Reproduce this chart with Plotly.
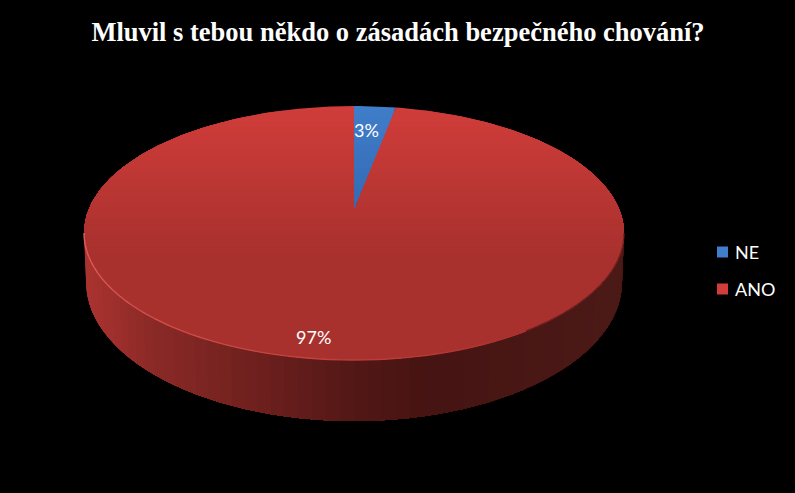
import numpy as np
import plotly.graph_objects as go

title = "Mluvil s tebou někdo o zásadách bezpečného chování?"
categories = ["NE", "ANO"]
values = [3, 97]
top_light = {"NE": (64, 125, 202), "ANO": (208, 61, 58)}
top_dark = {"NE": (46, 98, 168), "ANO": (168, 49, 46)}
wall_stops_x = [84, 150, 270, 354, 430, 624]
wall_stops = [(172, 52, 49), (140, 42, 39), (107, 31, 29), (82, 24, 22), (70, 20, 18), (76, 26, 23)]

W, H = 795, 493
CX, CY, RX, RY = 354.0, 233.0, 270.0, 127.0
BCY, BRX, BRY = 282.0, 268.0, 139.0
K = 0.197  # perspective shift of the pie centre


def project(theta):
    u, v = np.sin(theta), np.cos(theta)
    d = 1 + K * v
    return CX + RX * u * np.sqrt(1 - K * K) / d, CY - RY * (v + K) / d


def clip_below(poly, y):
    out = []
    n = len(poly)
    for i in range(n):
        a, b = poly[i], poly[(i + 1) % n]
        ia, ib = a[1] >= y, b[1] >= y
        if ia:
            out.append(a)
        if ia != ib:
            t = (y - a[1]) / (b[1] - a[1])
            out.append((a[0] + t * (b[0] - a[0]), y))
    return out


def mix(a, b, t):
    return "rgb(%d,%d,%d)" % tuple(a[i] + (b[i] - a[i]) * t for i in range(3))


def poly_trace(xs, ys, color, lw=0.0):
    return go.Scatter(x=list(xs) + [xs[0]], y=list(ys) + [ys[0]], mode="lines", fill="toself",
                      fillcolor=color, line=dict(color=color, width=lw), hoverinfo="skip",
                      showlegend=False)


traces = []

# side wall: each step paints the rest of the wall to its right, so no seams appear
angles = np.linspace(np.pi, 2 * np.pi, 61)
for i in range(len(angles) - 1):
    arc = angles[i:]
    tx = CX + RX * np.cos(arc)
    ty = CY - RY * np.sin(arc)
    bx = CX + BRX * np.cos(arc[::-1])
    by = BCY - BRY * np.sin(arc[::-1])
    xm = (tx[0] + CX + RX * np.cos(angles[i + 1])) / 2
    col = tuple(np.interp(xm, wall_stops_x, [s[j] for s in wall_stops]) for j in range(3))
    traces.append(poly_trace(list(tx) + list(bx), list(ty) + list(by), mix(col, col, 0)))

# top face: every slice comes from the values
total = sum(values)
start = 0.0
order = []
for cat, val in zip(categories, values):
    order.append((cat, start, start + val / total))
    start += val / total

band_edges = np.linspace(CY - RY - 1, CY + RY + 1, 46)
for cat, f0, f1 in reversed(order):
    th = np.linspace(f0, f1, max(8, int((f1 - f0) * 300))) * 2 * np.pi
    px, py = project(th)
    apex = (CX, CY - RY * K)
    wedge = [apex] + list(zip(px, py))
    for y0 in band_edges[:-1]:
        # each band paints everything below it, so no seams appear between bands
        piece = clip_below(wedge, y0)
        if len(piece) < 3:
            continue
        t = (y0 - (CY - RY)) / (2 * RY)
        t = min(1.0, max(0.0, t * 1.7))
        traces.append(poly_trace([p[0] for p in piece], [p[1] for p in piece],
                                 mix(top_light[cat], top_dark[cat], t)))

# highlight along the front rim, fading to the right
rim = np.linspace(np.pi, 1.72 * np.pi, 50)
for i, (a0, a1) in enumerate(zip(rim[:-1], rim[1:])):
    t = i / 48
    traces.append(go.Scatter(x=CX + RX * np.cos([a0, a1]), y=CY - RY * np.sin([a0, a1]), mode="lines",
                             line=dict(color=mix((226, 96, 90), (172, 50, 47), t), width=1.4),
                             hoverinfo="skip", showlegend=False))
rim2 = np.linspace(1.72 * np.pi, 2 * np.pi, 24)
for a0, a1 in zip(rim2[:-1], rim2[1:]):
    traces.append(go.Scatter(x=CX + RX * np.cos([a0, a1]), y=CY - RY * np.sin([a0, a1]), mode="lines",
                             line=dict(color="rgb(110,32,30)", width=1.2), hoverinfo="skip",
                             showlegend=False))

# legend keys placed close to their labels
legend_y = [252, 289]
for cat, ly in zip(categories, legend_y):
    traces.append(go.Scatter(x=[722.5], y=[ly], mode="markers", name=cat, hoverinfo="skip", showlegend=False,
                             marker=dict(symbol="square", size=11, color=mix(top_light[cat], top_dark[cat], 0))))

annotations = [
    dict(x=366, y=130, xref="x", yref="y", text=f"{values[0]}%", showarrow=False,
         font=dict(family="Lato", size=18, color="white")),
    dict(x=313, y=337, xref="x", yref="y", text=f"{values[1]}%", showarrow=False,
         font=dict(family="Lato", size=18, color="white")),
]
for cat, ly in zip(categories, legend_y):
    annotations.append(dict(x=733, y=ly, xref="x", yref="y", text=cat, showarrow=False, xanchor="left",
                            font=dict(family="Lato", size=18, color="white")))

fig = go.Figure(traces)
fig.update_layout(
    width=W, height=H, margin=dict(l=0, r=0, t=0, b=0), showlegend=False,
    paper_bgcolor="black", plot_bgcolor="black",
    xaxis=dict(range=[0, W], visible=False, fixedrange=True),
    yaxis=dict(range=[H, 0], visible=False, fixedrange=True),
    title=dict(text=f"<b>{title}</b>", x=398 / W, xanchor="center", y=1 - 32 / H, yanchor="middle",
               font=dict(family="Liberation Serif", size=26.5, color="white")),
    annotations=annotations,
)
fig.write_html("out.html", config={"displayModeBar": False},
               post_script="document.body.style.margin='0';document.body.style.background='black';")
